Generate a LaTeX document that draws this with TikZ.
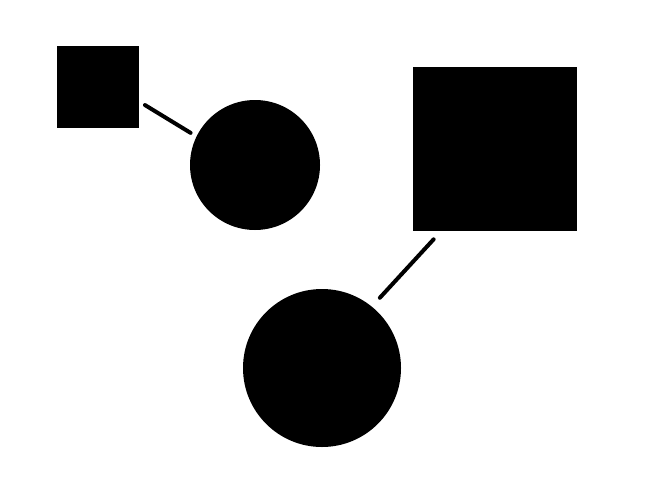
\documentclass[tikz,border=0pt]{standalone}
\usepackage{tikz}
\usetikzlibrary{calc}

\begin{document}
\begin{tikzpicture}[
	blk/.style={fill=black, draw=none, inner sep=0pt, outer sep=0pt},
	sqr/.style={blk, rectangle, minimum width=#1, minimum height=#1},
	rnd/.style={blk, circle, minimum size=#1},
	link/.style={line width=0.08cm, line cap=round}
]
			%%%%% START %%%%%
			\useasboundingbox (0, 0) rectangle (13, 9.92);
			
			\node[sqr=1.64cm] (small) at (1.96, 8.19) {};
			\node[rnd=2.6cm] (upper) at (5.1, 6.62) {};
			
			\node[sqr=3.28cm] (big) at (9.9, 6.95) {};
			\node[rnd=3.16cm] (lower) at (6.44, 2.56) {};
			
			\draw[link, shorten <=0.14cm, shorten >=0.14cm] (small.-20) -- (upper.154);
			\draw[link, shorten <=0.24cm, shorten >=0.24cm] (big.237) -- (lower.51);
			%%%%% END %%%%%
\end{tikzpicture}
\end{document}
